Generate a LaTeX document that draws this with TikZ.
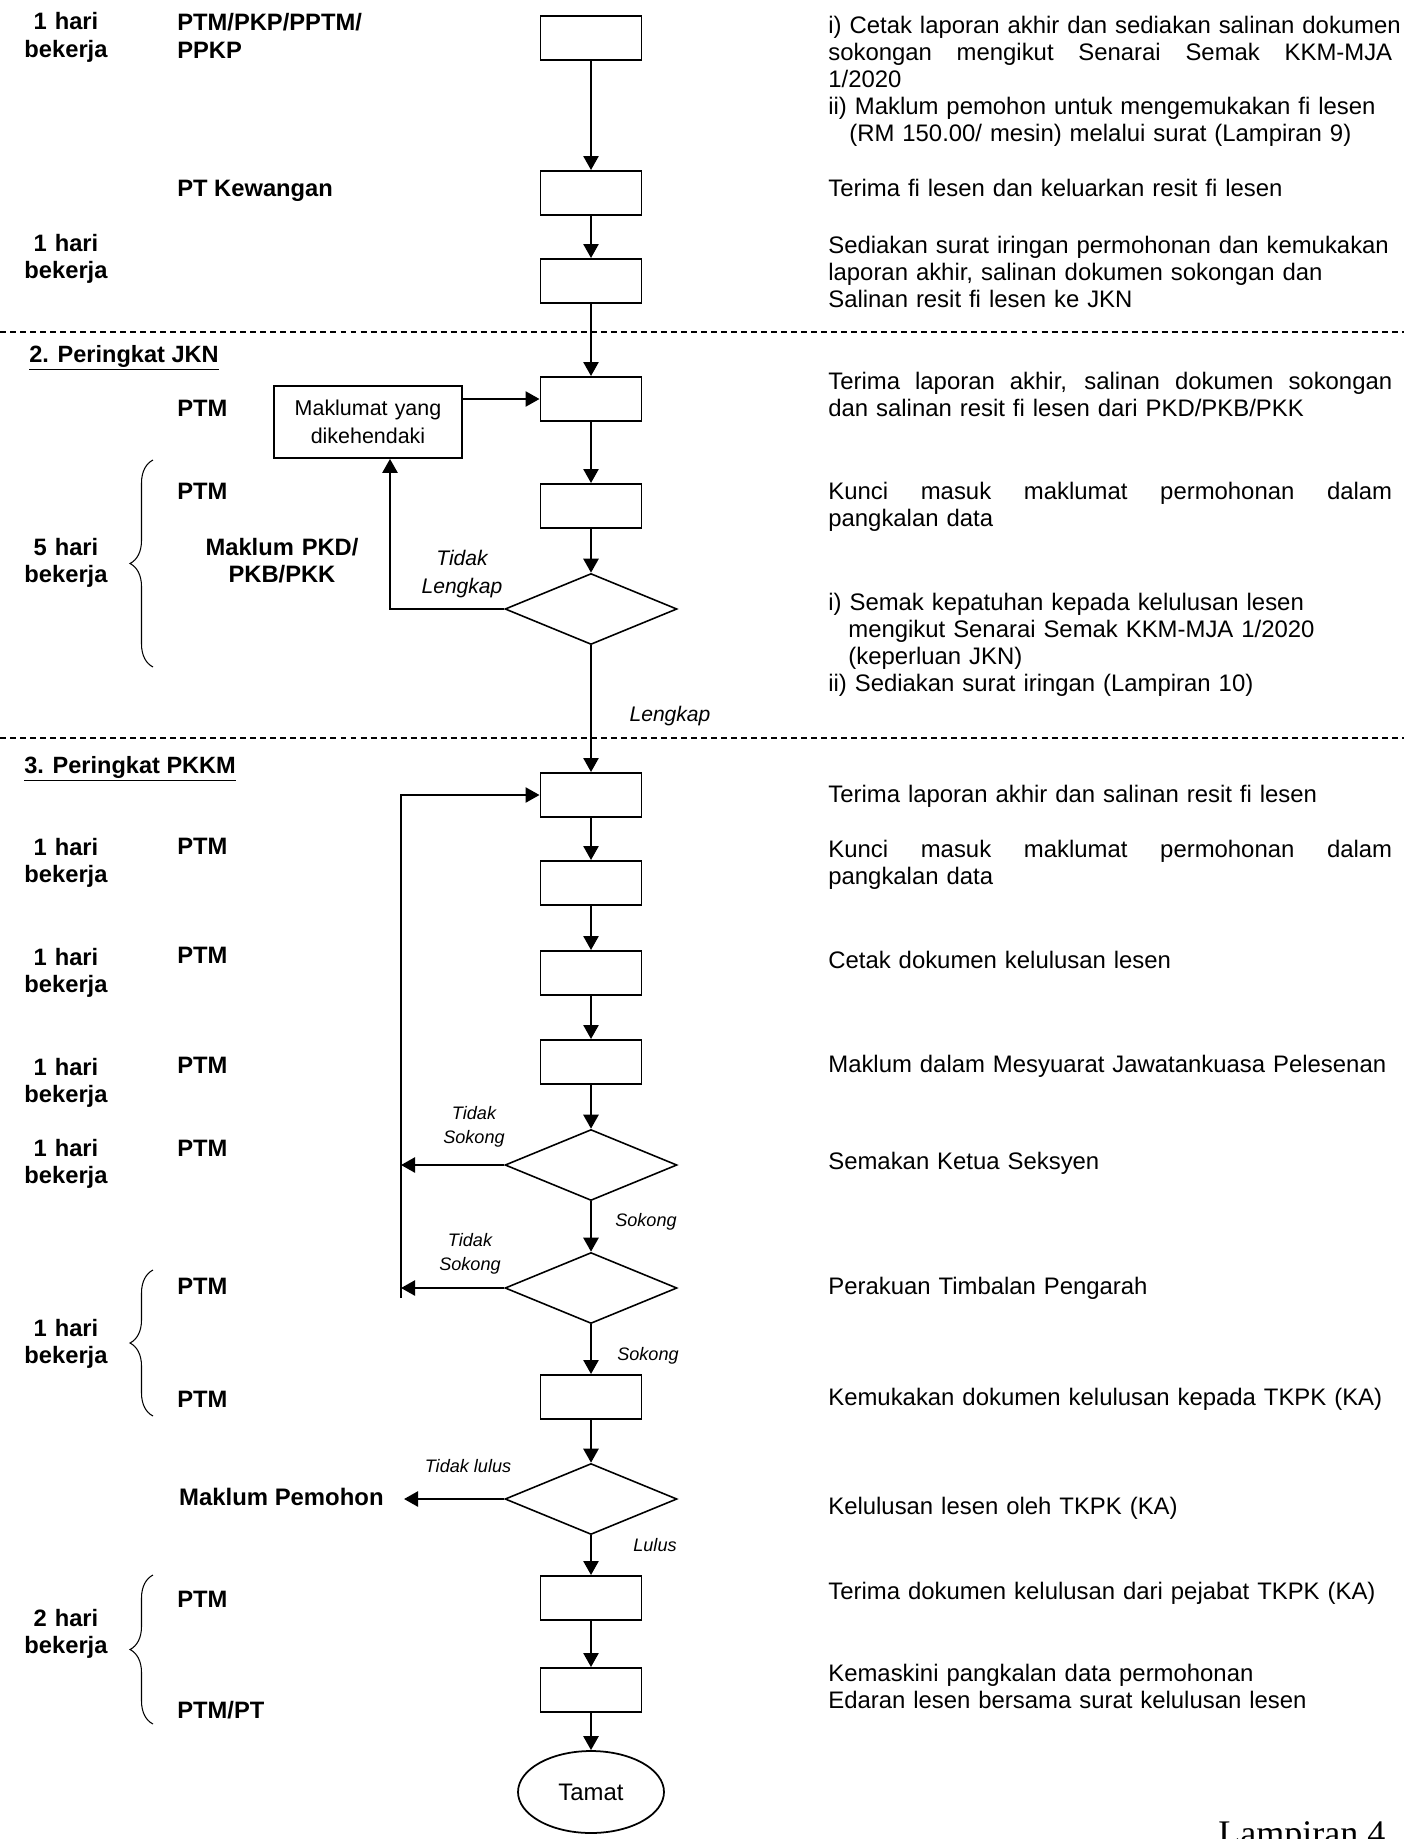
\documentclass[tikz,border=0pt]{standalone}
\usepackage{fontspec}
\setmainfont{Liberation Sans}
\newfontfamily\lampfont{Liberation Serif}
\usetikzlibrary{shapes.geometric,arrows.meta,decorations.pathreplacing}
\newlength\rtextw
\setlength\rtextw{11.28cm}
\newcommand{\jline}[1]{{\spaceskip=0.278em plus 2em\makebox[\rtextw][s]{#1}}}

\begin{document}
\begin{tikzpicture}[x=0.02cm,y=-0.02cm,
  box/.style={draw,line width=1.1pt,minimum width=2.02cm,minimum height=0.88cm,inner sep=0pt},
  dec/.style={draw,diamond,line width=0.9pt,minimum width=3.44cm,minimum height=1.42cm,inner sep=0pt},
  arr/.style={line width=1.4pt,-{Triangle[length=0.28cm,width=0.3cm]}},
  desc/.style={anchor=base west,inner sep=0pt,text width=11.8cm,align=left,font=\fontsize{13.6}{15.4}\selectfont},
  who/.style={anchor=base west,inner sep=0pt,align=left,font=\bfseries\fontsize{13.5}{15.4}\selectfont},
  day/.style={anchor=base,inner sep=0pt,text width=2.4cm,align=center,font=\bfseries\fontsize{13.5}{15.4}\selectfont},
  sec/.style={anchor=base west,inner sep=0pt,font=\bfseries\fontsize{13.4}{15}\selectfont},
  cond/.style={inner sep=0pt,align=center,font=\itshape\fontsize{10.3}{13.6}\selectfont},
  condbig/.style={inner sep=0pt,align=center,font=\itshape\fontsize{12}{15.9}\selectfont},
  brc/.style={decorate,decoration={brace,amplitude=0.46cm},line width=0.6pt},
  sep/.style={line width=0.6pt,dash pattern=on 3.4pt off 2.3pt}]
  \useasboundingbox (0,0) rectangle (1404,1839);
  % section separators
  \draw[sep] (0,332) -- (1404,332);
  \draw[sep] (0,738) -- (1404,738);
  % process column
  \node[box]    (P1)  at (591,38)   {};
  \node[box]    (P2)  at (591,193)  {};
  \node[box]    (P3)  at (591,281)  {};
  \node[box]    (P4)  at (591,399)  {};
  \node[box,text width=3.5cm,align=center,minimum width=3.76cm,minimum height=1.44cm,line width=1pt,
        font=\fontsize{12.2}{15.8}\selectfont] (M) at (368,422) {Maklumat yang\\dikehendaki};
  \node[box]    (P5)  at (591,506)  {};
  \node[dec]    (D1)  at (591,609)  {};
  \node[box]    (P6)  at (591,795)  {};
  \node[box]    (P7)  at (591,883)  {};
  \node[box]    (P8)  at (591,973)  {};
  \node[box]    (P9)  at (591,1062) {};
  \node[dec]    (D2)  at (591,1165) {};
  \node[dec]    (D3)  at (591,1288) {};
  \node[box]    (P10) at (591,1397) {};
  \node[dec]    (D4)  at (591,1499) {};
  \node[box]    (P11) at (591,1598) {};
  \node[box]    (P12) at (591,1690) {};
  \node[draw,ellipse,line width=1pt,minimum width=2.92cm,minimum height=1.64cm,
        font=\fontsize{13.6}{15}\selectfont] (T) at (591,1792) {Tamat};
  \node[anchor=east,inner sep=0pt,inner xsep=0.4cm,font=\bfseries\fontsize{13.6}{15}\selectfont]
        (MP) at (404,1497) {Maklum Pemohon};
  \coordinate (LT) at (401,795);
  \coordinate (LB) at (401,1298);
  % connectors
  \draw[arr] (P1) -- (P2);
  \draw[arr] (P2) -- (P3);
  \draw[arr] (P3) -- (P4);
  \draw[arr] (M.east |- P4.west) -- (P4.west);
  \draw[arr] (P4) -- (P5);
  \draw[arr] (P5) -- (D1);
  \draw[arr] (D1.west) -| ([xshift=0.44cm]M.south);
  \draw[arr] (D1) -- (P6);
  \draw[arr] (LB) -- (LT) -- (P6.west);
  \draw[arr] (P6) -- (P7);
  \draw[arr] (P7) -- (P8);
  \draw[arr] (P8) -- (P9);
  \draw[arr] (P9) -- (D2);
  \draw[arr] (D2.west) -- (D2.west -| LT);
  \draw[arr] (D2) -- (D3);
  \draw[arr] (D3.west) -- (D3.west -| LT);
  \draw[arr] (D3) -- (P10);
  \draw[arr] (P10) -- (D4);
  \draw[arr] (D4.west) -- (D4.west -| MP.east);
  \draw[arr] (D4) -- (P11);
  \draw[arr] (P11) -- (P12);
  \draw[arr] (P12) -- (T);
  % decision labels
  \node[condbig] (c1) at (462,574)  {Tidak\\Lengkap};
  \node[condbig] (c2) at (670,716)  {Lengkap};
  \node[cond]    (c3) at (474,1127) {Tidak\\Sokong};
  \node[cond]    (c4) at (646,1222) {Sokong};
  \node[cond]    (c5) at (470,1254) {Tidak\\Sokong};
  \node[cond]    (c6) at (648,1356) {Sokong};
  \node[cond]    (c7) at (468,1466) {Tidak lulus};
  \node[cond]    (c8) at (655,1545) {Lulus};
  % left-hand side: days, officers, braces
  \node[day]  (d1)  at (66,30)    {1 hari\\bekerja};
  \node[who,text width=4cm] (w1) at (177,31) {PTM/PKP/PPTM/\\PPKP};
  \node[who]  (w2)  at (177,196)  {PT Kewangan};
  \node[day]  (d2)  at (66,251)   {1 hari\\bekerja};
  \node[sec]  (s2)  at (29,362)   {\underline{2. Peringkat JKN}};
  \node[who]  (w3)  at (177,416)  {PTM};
  \node[who]  (w4)  at (177,499)  {PTM};
  \node[day]  (d3)  at (66,555)   {5 hari\\bekerja};
  \node[day,text width=3.4cm] (w5) at (282,555) {Maklum PKD/\\PKB/PKK};
  \node[sec]  (s3)  at (24,773)   {\underline{3. Peringkat PKKM}};
  \node[day]  (d4)  at (66,855)   {1 hari\\bekerja};
  \node[who]  (w6)  at (177,854)  {PTM};
  \node[day]  (d5)  at (66,965)   {1 hari\\bekerja};
  \node[who]  (w7)  at (177,963)  {PTM};
  \node[day]  (d6)  at (66,1075)  {1 hari\\bekerja};
  \node[who]  (w8)  at (177,1073) {PTM};
  \node[day]  (d7)  at (66,1156)  {1 hari\\bekerja};
  \node[who]  (w9)  at (177,1156) {PTM};
  \node[who]  (w10) at (177,1294) {PTM};
  \node[day]  (d8)  at (66,1336)  {1 hari\\bekerja};
  \node[who]  (w11) at (177,1407) {PTM};
  \node[who]  (w12) at (177,1607) {PTM};
  \node[day]  (d9)  at (66,1626)  {2 hari\\bekerja};
  \node[who]  (w13) at (177,1718) {PTM/PT};
  \draw[brc] (153,667) -- (153,460);
  \draw[brc] (153,1416) -- (153,1270);
  \draw[brc] (153,1724) -- (153,1575);
  % right-hand side: descriptions
  \node[desc] (t1)  at (828,33)   {i) Cetak laporan akhir dan sediakan salinan dokumen\\
    \jline{sokongan mengikut Senarai Semak KKM-MJA}\\1/2020\\
    ii) Maklum pemohon untuk mengemukakan fi lesen\\
    \hspace*{0.42cm}(RM 150.00/ mesin) melalui surat (Lampiran 9)};
  \node[desc] (t2)  at (828,196)  {Terima fi lesen dan keluarkan resit fi lesen};
  \node[desc] (t3)  at (828,253)  {Sediakan surat iringan permohonan dan kemukakan\\
    laporan akhir, salinan dokumen sokongan dan\\Salinan resit fi lesen ke JKN};
  \node[desc] (t4)  at (828,389)  {\jline{Terima laporan akhir, salinan dokumen sokongan}\\
    dan salinan resit fi lesen dari PKD/PKB/PKK};
  \node[desc] (t5)  at (828,499)  {\jline{Kunci masuk maklumat permohonan dalam}\\pangkalan data};
  \node[desc] (t6)  at (828,610)  {i) Semak kepatuhan kepada kelulusan lesen\\
    \hspace*{0.4cm}mengikut Senarai Semak KKM-MJA 1/2020\\
    \hspace*{0.4cm}(keperluan JKN)\\ii) Sediakan surat iringan (Lampiran 10)};
  \node[desc] (t7)  at (828,802)  {Terima laporan akhir dan salinan resit fi lesen};
  \node[desc] (t8)  at (828,857)  {\jline{Kunci masuk maklumat permohonan dalam}\\pangkalan data};
  \node[desc] (t9)  at (828,968)  {Cetak dokumen kelulusan lesen};
  \node[desc] (t10) at (828,1072) {Maklum dalam Mesyuarat Jawatankuasa Pelesenan};
  \node[desc] (t11) at (828,1169) {Semakan Ketua Seksyen};
  \node[desc] (t12) at (828,1294) {Perakuan Timbalan Pengarah};
  \node[desc] (t13) at (828,1405) {Kemukakan dokumen kelulusan kepada TKPK (KA)};
  \node[desc] (t14) at (828,1514) {Kelulusan lesen oleh TKPK (KA)};
  \node[desc] (t15) at (828,1599) {Terima dokumen kelulusan dari pejabat TKPK (KA)};
  \node[desc] (t16) at (828,1681) {Kemaskini pangkalan data permohonan\\
    Edaran lesen bersama surat kelulusan lesen};
  \node[anchor=base west,inner sep=0pt,font=\lampfont\fontsize{20.5}{22}\selectfont]
        (lamp) at (1218,1845) {Lampiran 4};
\end{tikzpicture}
\end{document}
